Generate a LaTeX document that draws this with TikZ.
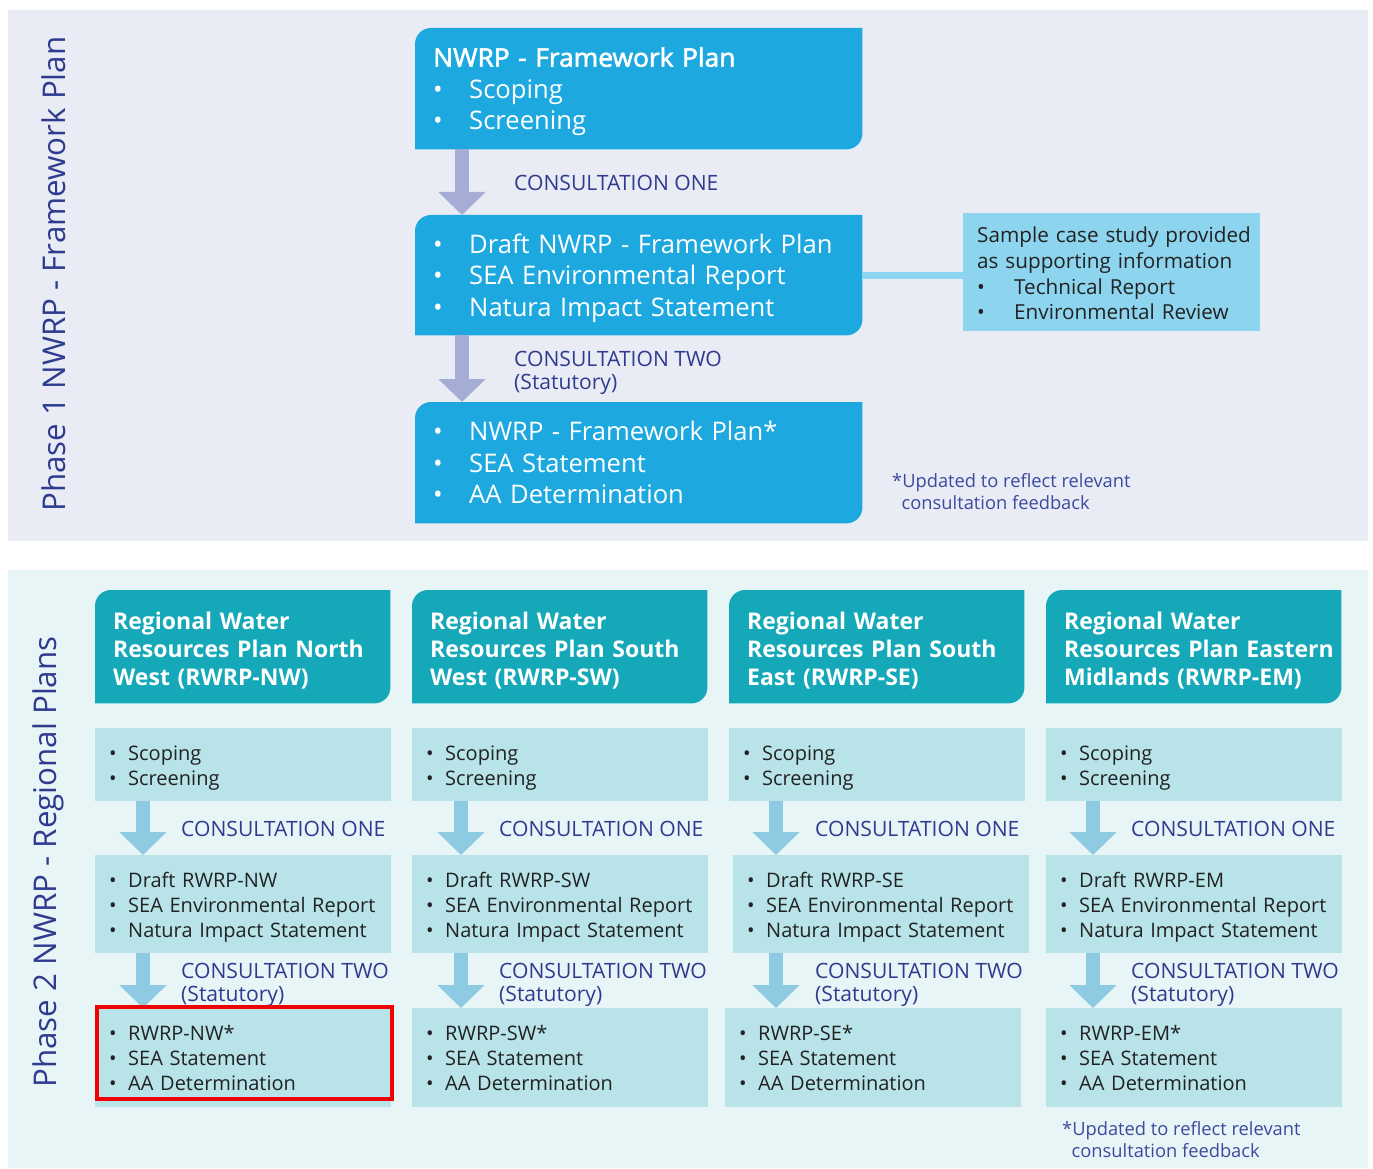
\documentclass[tikz,border=0pt]{standalone}
\usepackage{fontspec}
\setmainfont{Open Sans}
\newfontfamily\semib[FakeBold=2.2,FakeStretch=1.03]{Open Sans}
\usetikzlibrary{arrows.meta}
\definecolor{topbg}{HTML}{E9ECF5}
\definecolor{botbg}{HTML}{E7F5F7}
\definecolor{topblue}{HTML}{1DA9E0}
\definecolor{sidebox}{HTML}{8DD5EF}
\definecolor{toparrow}{HTML}{A5ADD5}
\definecolor{navy}{HTML}{2E3B8E}
\definecolor{footblue}{HTML}{3A4A9E}
\definecolor{tealhead}{HTML}{14A8B8}
\definecolor{stage}{HTML}{B7E3E9}
\definecolor{botarrow}{HTML}{8ECBE3}
\definecolor{bodytext}{HTML}{222222}
\definecolor{hilite}{HTML}{F00000}
\pgfdeclarelayer{bg}
\pgfdeclarelayer{boxes}
\pgfsetlayers{bg,boxes,main}
\newcommand{\tbl}[1]{\makebox[36pt][l]{\textbullet}#1}
\newcommand{\sbl}[1]{\makebox[19pt][l]{\textbullet}#1}
\newcommand{\cbl}[1]{\mbox{\makebox[37pt][l]{\textbullet}#1}}
\tikzset{
  struts/.style 2 args={execute at begin node={\rule{0pt}{#1}}, execute at end node={\rule[-#2]{0pt}{#2}}},
  tbox/.style={rectangle, anchor=north west, inner ysep=0pt, inner xsep=18pt,
    text width=411pt, minimum height=121pt, align=left, text=white,
    font=\fontsize{25.6}{31.5}\selectfont, struts={26pt}{7pt}},
  sidenode/.style={rectangle, anchor=north west, fill=sidebox, inner ysep=0pt, inner xsep=14pt,
    text width=269pt, minimum height=118pt, align=left, text=bodytext,
    font=\fontsize{20.7}{25.7}\selectfont, struts={24pt}{6pt}},
  hbox/.style={rectangle, anchor=north west, inner ysep=0pt, inner xsep=18pt,
    text width=259pt, minimum height=113pt, align=left, text=white,
    font=\fontsize{23}{28}\selectfont\bfseries, struts={27pt}{6pt}},
  sbox/.style={rectangle, anchor=north west, fill=stage, inner ysep=0pt, inner xsep=14pt,
    align=left, text=bodytext, font=\fontsize{20}{25}\selectfont, struts={22pt}{6pt}},
  clabel/.style={anchor=west, inner sep=0pt, text=navy, align=left,
    font=\fontsize{21.1}{23}\selectfont},
  cltwo/.style={anchor=north west, inner sep=0pt, text=navy, align=left,
    font=\fontsize{21.1}{23}\selectfont},
  foot/.style={anchor=north west, inner sep=0pt, text=footblue, align=left,
    font=\fontsize{18.3}{22}\selectfont},
  phase/.style={rotate=90, inner sep=0pt, text=navy, font=\fontsize{31.3}{36}\selectfont},
  toparr/.style={draw=toparrow, line width=14pt, -{Triangle[width=46pt,length=23pt]}},
  botarr/.style={draw=botarrow, line width=14pt, -{Triangle[width=46pt,length=23pt]}},
}
\begin{document}
\begin{tikzpicture}[x=1pt,y=-1pt]
\useasboundingbox (0,0) rectangle (1373,1169);
\begin{pgfonlayer}{bg}
  \fill[topbg] (8,10) rectangle (1368,541);
  \fill[botbg] (8,570) rectangle (1368,1168);
\end{pgfonlayer}

% Phase labels
\node[phase] (ph1) at (54,274) {Phase 1 NWRP - Framework Plan};
\node[phase] (ph2) at (48,862) {Phase 2 NWRP - Regional Plans};

% Phase 1 boxes
\node[tbox] (fp1) at (415,28) {{\semib NWRP - Framework Plan}\\\tbl{Scoping}\\\tbl{Screening}};
\node[tbox, minimum height=120pt] (fp2) at (415,215) {\tbl{Draft NWRP - Framework Plan}\\\tbl{SEA Environmental Report}\\\tbl{Natura Impact Statement}};
\node[tbox] (fp3) at (415,402) {\tbl{NWRP - Framework Plan*}\\\tbl{SEA Statement}\\\tbl{AA Determination}};
\begin{pgfonlayer}{boxes}
  \foreach \b in {fp1,fp2,fp3}{
    \fill[topblue] (\b.south west) [rounded corners=16pt] -- (\b.north west) [sharp corners] -- (\b.north east) [rounded corners=16pt] -- (\b.south east) [sharp corners] -- cycle;
  }
\end{pgfonlayer}

\node[sidenode] (side) at (963,213) {\mbox{Sample case study provided}\\\mbox{as supporting information}\\\cbl{Technical Report}\\\cbl{Environmental Review}};
\begin{pgfonlayer}{boxes}
  \draw[sidebox, line width=7pt] (fp2.east) -- (fp2.east -| side.west);
\end{pgfonlayer}

\coordinate (tax) at (462,0);
\draw[toparr] (fp1.south -| tax) -- (fp2.north -| tax);
\draw[toparr] (fp2.south -| tax) -- (fp3.north -| tax);
\node[clabel] (tc1) at (514,183) {CONSULTATION ONE};
\node[cltwo] (tc2) at (514,351) {CONSULTATION TWO\\(Statutory)};
\node[foot] (tfoot) at (892,473) {*Updated to reflect relevant\\\hspace*{9.5pt}consultation feedback};

% Phase 2 columns
\foreach \n/\hx/\ax/\bx/\cx/\rx/\lx/\code/\lb/\lc in {
  1/95/95/95/95/143/181/NW/Resources Plan North/West (RWRP-NW),
  2/412/412/412/412/461/499/SW/Resources Plan South/West (RWRP-SW),
  3/729/729/733/725/776/815/SE/Resources Plan South/East (RWRP-SE),
  4/1046/1046/1046/1046/1093/1131/EM/Resources Plan Eastern/Midlands (RWRP-EM)}{
  \node[hbox] (h\n) at (\hx,590) {\mbox{Regional Water}\\\mbox{\lb}\\\mbox{\lc}};
  \begin{pgfonlayer}{boxes}
    \fill[tealhead] (h\n.south west) [rounded corners=16pt] -- (h\n.north west) [sharp corners] -- (h\n.north east) [rounded corners=16pt] -- (h\n.south east) [sharp corners] -- cycle;
  \end{pgfonlayer}
  \node[sbox, text width=268pt, minimum height=73pt] (a\n) at (\ax,728) {\sbl{Scoping}\\\sbl{Screening}};
  \node[sbox, text width=268pt, minimum height=98pt] (b\n) at (\bx,855) {\sbl{Draft RWRP-\code}\\\sbl{SEA Environmental Report}\\\sbl{Natura Impact Statement}};
  \node[sbox, text width=268pt, minimum height=99pt] (c\n) at (\cx,1008) {\sbl{RWRP-\code*}\\\sbl{SEA Statement}\\\sbl{AA Determination}};
  \coordinate (ax\n) at (\rx,0);
  \draw[botarr] (a\n.south -| ax\n) -- (b\n.north -| ax\n);
  \draw[botarr] (b\n.south -| ax\n) -- (c\n.north -| ax\n);
  \node[clabel] (ca\n) at (\lx,829) {CONSULTATION ONE};
  \node[cltwo] (cb\n) at (\lx,963) {CONSULTATION TWO\\(Statutory)};
}
\draw[hilite, line width=4pt] ([shift={(2,-1)}]c1.north west) rectangle ([shift={(1,-8)}]c1.south east);
\node[foot] (bfoot) at (1062,1121) {*Updated to reflect relevant\\\hspace*{9.5pt}consultation feedback};
\end{tikzpicture}
\end{document}
